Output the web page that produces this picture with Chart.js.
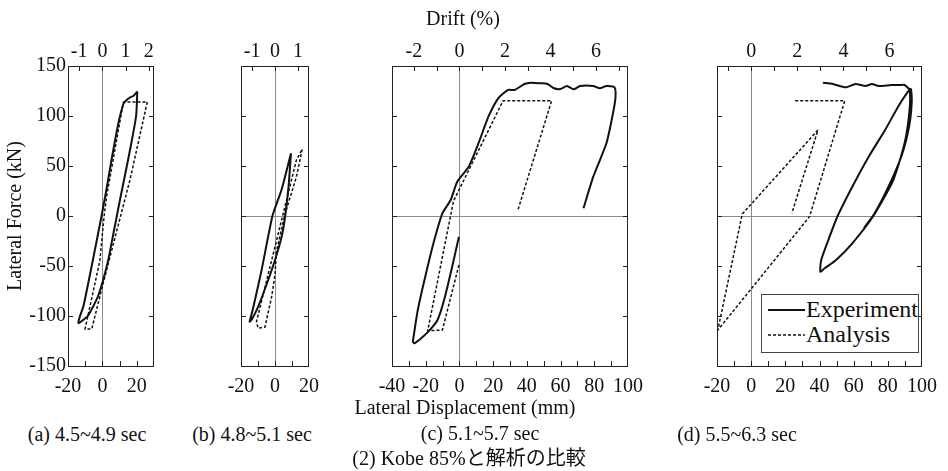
<!DOCTYPE html>
<html>
<head>
<meta charset="utf-8">
<script src="https://cdn.jsdelivr.net/npm/chart.js@4.4.1/dist/chart.umd.min.js"></script>
<style>
  body { margin: 0; background: #fff; }
  #wrap { position: relative; width: 948px; height: 471px; overflow: hidden; font-family: "Liberation Serif", serif; color: #111; }
  canvas { position: absolute; top: 0; }
  .lbl { position: absolute; font-size: 20px; white-space: nowrap; transform: translate(-50%, -50%); line-height: 1; }
  .jp { font-family: "Liberation Serif", "Noto Sans CJK JP", serif; }
  #legend { position: absolute; left: 761px; top: 294px; width: 156px; height: 57px; border: 1px solid #444; background: #fff; }
  #legend .row { position: absolute; left: 6px; height: 24px; font-size: 24px; line-height: 24px; }
  #legend svg { position: absolute; left: 0; top: 11px; }
  #legend span { position: absolute; left: 38px; top: 0; }
</style>
</head>
<body>
<div id="wrap">
  <canvas id="pa" width="174" height="400" style="left:0px"></canvas>
  <canvas id="pb" width="112" height="400" style="left:217px"></canvas>
  <canvas id="pc" width="284" height="400" style="left:368px"></canvas>
  <canvas id="pd" width="253" height="400" style="left:693px"></canvas>

  <div class="lbl" style="left:463px;top:18px">Drift (%)</div>
  <div class="lbl" style="left:465px;top:407px">Lateral Displacement (mm)</div>
  <div class="lbl" style="left:87px;top:434px">(a) 4.5~4.9 sec</div>
  <div class="lbl" style="left:252px;top:434px">(b) 4.8~5.1 sec</div>
  <div class="lbl" style="left:480px;top:433px">(c) 5.1~5.7 sec</div>
  <div class="lbl" style="left:737px;top:434px">(d) 5.5~6.3 sec</div>
  <div class="lbl jp" style="left:469px;top:458px">(2) Kobe 85%と解析の比較</div>

  <div id="legend">
    <div class="row" style="top:2px">
      <svg width="38" height="4"><line x1="0" y1="2" x2="37" y2="2" stroke="#111" stroke-width="2"/></svg>
      <span>Experiment</span>
    </div>
    <div class="row" style="top:27px">
      <svg width="38" height="4"><line x1="0" y1="2" x2="37" y2="2" stroke="#111" stroke-width="1.5" stroke-dasharray="3 2"/></svg>
      <span>Analysis</span>
    </div>
  </div>
</div>

<script>
// ---- data: [displacement (mm), lateral force (kN)] ----
const expA = [[20.3,124.5],[19.6,100],[16.5,70],[12.8,38],[10.2,16],[6.8,-14],[3,-47],[-2.5,-80],[-8.5,-100],[-12,-105],[-14,-107],
  [-13,-100],[-11,-90],[-6,-48],[-0.5,0],[2.5,28],[5.5,58],[9.2,92],[12.2,112],[14.1,116],[16.5,119],[18,120],[20.3,124.5]];
const anaA = [[26.1,114],[16,36],[0.5,-67],[-6.2,-113],[-10.1,-113],[-1.5,-45],[1,0],[2.5,20],[12.2,114],[26.1,114]];

const expB = [[9.4,62.7],[4,27],[-1.5,0],[-8,-55],[-13,-93],[-14.9,-105.7],
  [-13.5,-103],[-9.9,-90.7],[-4,-64],[0,-44],[3.9,-20.7],[6,0],[8,30],[9.4,62.7]];
const anaB = [[16,66.7],[12.6,39.3],[5.8,1.3],[0.9,-35],[0,-58.7],[-2,-81],[-5.9,-111],[-9.9,-112.3],[-10.9,-105.7],[12.6,56],[16,66.7]];

const expC = [[-0.3,-20.7],[-4.3,-50.7],[-9.1,-84],[-13,-104],[-17.9,-114.7],[-22.7,-122.3],[-26.6,-127.3],[-27.6,-125.7],
  [-27.2,-120.7],[-24.7,-94],[-19.8,-57.3],[-14.9,-24],[-10.1,2.7],[-5.2,16],[-1.3,34.3],[5.5,49.3],[11.3,72.7],
  [17.2,99.3],[23,117.7],[28.8,126],[32.7,126],[38.6,132],[42.4,133.3],[48.3,132.7],[52.2,132],[56.1,127.7],
  [59.9,127],[63.8,130],[67.7,126.7],[71.6,130],[79.4,130],[83.3,127.7],[87.2,130],[92,128.7],
  [92.6,119.3],[91.1,102.7],[87.2,72.7],[79.4,39.3],[73.6,7.7]];
const anaC = [[-0.3,-49],[-10.1,-114],[-18.8,-114.7],[-3.5,15],[25.9,115.3],[54.7,115.3],[34.7,6]];

const expD = [[42,133.3],[47.8,132],[55.4,128.7],[61.1,132],[66.9,130],[70.7,132],[74.6,130],[82.2,131],[87,131],
  [89.8,131],[92.7,126],[92.7,106],[89.8,72.7],[83.2,36],[71.5,0],[59.2,-27.3],[49.7,-44],[43,-52.3],[40.5,-55.7],
  [41,-44],[45.9,-20.7],[50.6,0],[59.2,29.3],[68.8,59.3],[78.4,86],[86,109.3],[91.8,124.3],[93.5,127],
  [94,114],[92.5,90],[88,60],[80,28],[72,2],[66,-12]];
const anaD = [[25.8,115.3],[54.8,115.3],[34.2,-0.5],[0.3,-72.3],[-19.5,-114],[-5.2,2],[39.1,86],[23.8,2.7]];

// axis ranges (mm) and force range (kN)
const rangeA = [-20, 30];
const rangeB = [-20, 20];
const rangeC = [-40, 100];
const rangeD = [-20, 100];
const forceRange = [-150, 150];
const mmPerDrift = 13.5;   // 1 % drift in mm

const PLOT_TOP = 66, PLOT_BOTTOM = 366, CANVAS_H = 400;
const serif = { family: '"Liberation Serif", serif', size: 20 };

// inward tick marks + frame
const frame = {
  id: 'frame',
  afterDatasetsDraw(chart) {
    const { ctx, chartArea: a, scales } = chart;
    const len = 5;
    ctx.save();
    ctx.strokeStyle = '#222';
    ctx.lineWidth = 1;
    ctx.beginPath();
    const inside = (p, lo, hi) => p > lo + 2 && p < hi - 2;
    scales.x.ticks.forEach(t => {
      const p = Math.round(scales.x.getPixelForValue(t.value)) + 0.5;
      if (inside(p, a.left, a.right)) { ctx.moveTo(p, a.bottom); ctx.lineTo(p, a.bottom - len); }
    });
    scales.x2.ticks.forEach(t => {
      const p = Math.round(scales.x2.getPixelForValue(t.value)) + 0.5;
      if (inside(p, a.left, a.right)) { ctx.moveTo(p, a.top); ctx.lineTo(p, a.top + len); }
    });
    scales.y.ticks.forEach(t => {
      const p = Math.round(scales.y.getPixelForValue(t.value)) + 0.5;
      if (inside(p, a.top, a.bottom)) {
        ctx.moveTo(a.left, p); ctx.lineTo(a.left + len, p);
        ctx.moveTo(a.right, p); ctx.lineTo(a.right - len, p);
      }
    });
    ctx.stroke();
    ctx.strokeRect(Math.round(a.left) + 0.5, Math.round(a.top) + 0.5, Math.round(a.width) - 1, Math.round(a.height));
    ctx.restore();
  }
};

const toXY = arr => arr.map(p => ({ x: p[0], y: p[1] }));
const zeroGrid = show => ({
  drawTicks: false,
  lineWidth: 1,
  color: c => (show && c.tick && c.tick.value === 0) ? '#8a8a8a' : 'rgba(0,0,0,0)'
});

function panel(id, o) {
  new Chart(document.getElementById(id), {
    type: 'scatter',
    data: {
      datasets: [
        { label: 'Experiment', data: toXY(o.exp), showLine: true, borderColor: '#111', borderWidth: 2,
          tension: 0.2, pointRadius: 0, fill: false },
        { label: 'Analysis', data: toXY(o.ana), showLine: true, borderColor: '#111', borderWidth: 1.5,
          borderDash: [3, 2], tension: 0, pointRadius: 0, fill: false }
      ]
    },
    options: {
      responsive: false,
      animation: false,
      devicePixelRatio: 1,
      layout: { padding: { left: 0, right: o.R, top: 0, bottom: 0 } },
      plugins: { legend: { display: false }, tooltip: { enabled: false } },
      scales: {
        x: {
          type: 'linear', position: 'bottom', min: o.range[0], max: o.range[1],
          border: { display: false },
          grid: zeroGrid(true),
          ticks: { stepSize: 10, autoSkip: false, maxRotation: 0, padding: 9, color: '#111', font: serif,
            callback: v => (v % 20 === 0 ? String(v) : '') },
          afterFit: s => { s.height = CANVAS_H - PLOT_BOTTOM; }
        },
        x2: {
          type: 'linear', position: 'top', axis: 'x',
          min: o.range[0] / mmPerDrift, max: o.range[1] / mmPerDrift,
          border: { display: false },
          grid: { display: false, drawTicks: false },
          ticks: { stepSize: 1, includeBounds: false, autoSkip: false, maxRotation: 0, padding: 2, color: '#111', font: serif,
            callback: v => (Math.abs(v / o.driftStep - Math.round(v / o.driftStep)) < 1e-6 ? String(Math.round(v)) : '') },
          afterFit: s => { s.height = PLOT_TOP; }
        },
        y: {
          type: 'linear', position: 'left', min: forceRange[0], max: forceRange[1],
          border: { display: false },
          grid: zeroGrid(o.yZero),
          title: { display: o.yLabels, text: 'Lateral Force (kN)', color: '#111', font: serif, padding: { top: 4, bottom: 0 } },
          ticks: { stepSize: 50, display: o.yLabels, padding: 2, color: '#111', font: serif },
          afterFit: s => { s.width = o.L; }
        }
      }
    },
    plugins: [frame]
  });
}

panel('pa', { exp: expA, ana: anaA, range: rangeA, L: 68, R: 20, driftStep: 1, yLabels: true, yZero: false });
panel('pb', { exp: expB, ana: anaB, range: rangeB, L: 24, R: 20, driftStep: 1, yLabels: false, yZero: true });
panel('pc', { exp: expC, ana: anaC, range: rangeC, L: 24, R: 20, driftStep: 2, yLabels: false, yZero: true });
panel('pd', { exp: expD, ana: anaD, range: rangeD, L: 24, R: 20, driftStep: 2, yLabels: false, yZero: true });
</script>
</body>
</html>
